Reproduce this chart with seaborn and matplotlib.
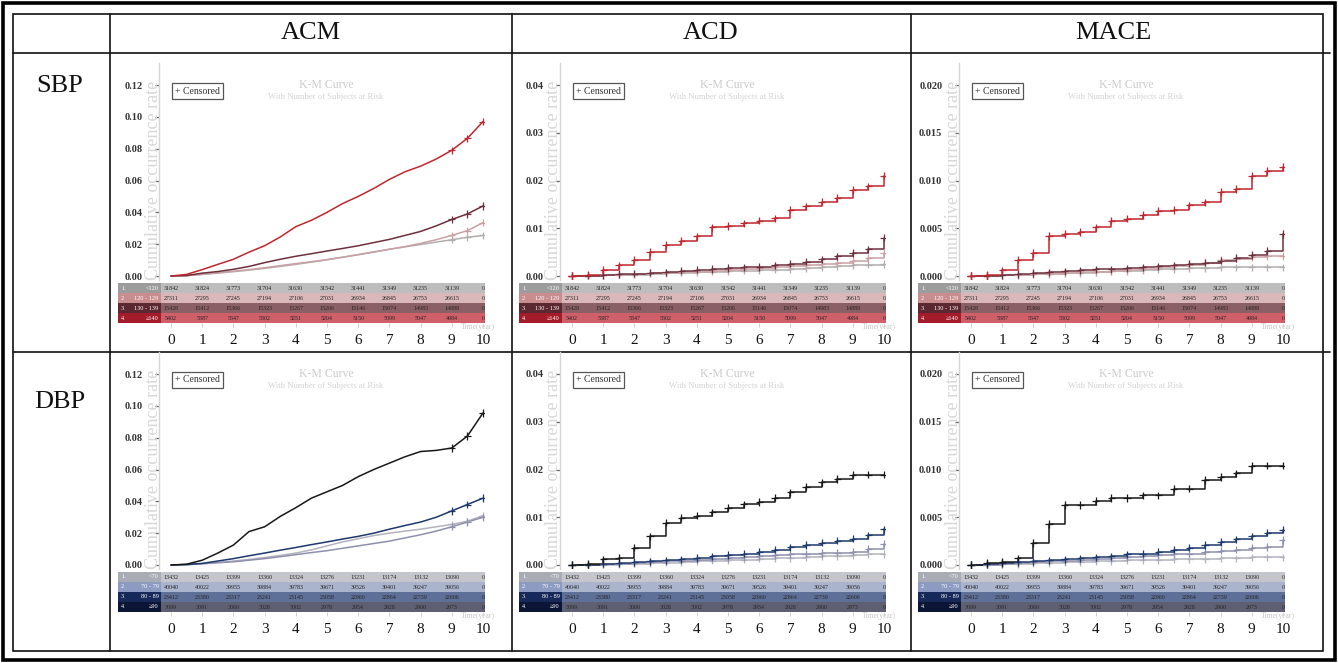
import matplotlib
matplotlib.use("Agg")
import matplotlib.pyplot as plt
from matplotlib.lines import Line2D
from matplotlib.patches import Rectangle
import seaborn as sns
import pandas as pd

sns.set_theme(style="white")
plt.rcParams["font.family"] = ["Liberation Serif", "DejaVu Sans"]

# ---------------------------------------------------------------- data
years = [0, 0.5, 1, 1.5, 2, 2.5, 3, 3.5, 4, 4.5, 5, 5.5, 6, 6.5, 7, 7.5, 8, 8.5, 9, 9.5, 10]
risk_years = [0, 1, 2, 3, 4, 5, 6, 7, 8, 9, 10]

outcomes = ["ACM", "ACD", "MACE"]
exposures = ["SBP", "DBP"]

sbp_groups = ["<120", "120-129", "130-139", "≥140"]
dbp_groups = ["<70", "70-79", "80-89", "≥90"]
sbp_row_labels = [("1.", "<120"), ("2.", "120 - 129"), ("3.", "130 - 139"), ("4.", "≥140")]
dbp_row_labels = [("1.", "<70"), ("2.", "70 - 79"), ("3.", "80 - 89"), ("4.", "≥90")]

# cumulative occurrence rate, SBP strata
sbp_acm_lt120 = [0, 0.0002, 0.001, 0.0018, 0.0027, 0.0037, 0.0048, 0.006, 0.0073, 0.0087, 0.0102,
                 0.0118, 0.0135, 0.0152, 0.0168, 0.0183, 0.0198, 0.0213, 0.0228, 0.0243, 0.0255]
sbp_acm_120 = [0, 0.0002, 0.001, 0.002, 0.003, 0.004, 0.0052, 0.0065, 0.0078, 0.009, 0.0103,
               0.0118, 0.0133, 0.015, 0.0168, 0.0185, 0.0205, 0.0228, 0.0255, 0.0285, 0.0335]
sbp_acm_130 = [0, 0.0003, 0.0018, 0.0028, 0.0042, 0.006, 0.0084, 0.0105, 0.0124, 0.014, 0.0157,
               0.0173, 0.019, 0.021, 0.023, 0.0255, 0.028, 0.0315, 0.0355, 0.039, 0.044]
sbp_acm_140 = [0, 0.001, 0.004, 0.0073, 0.0105, 0.015, 0.019, 0.0245, 0.031, 0.035, 0.040,
               0.0455, 0.050, 0.055, 0.0607, 0.0655, 0.069, 0.0735, 0.079, 0.0865, 0.097]

sbp_acd_lt120 = [0, 0.0001, 0.0002, 0.0003, 0.0003, 0.0005, 0.0006, 0.0007, 0.0008, 0.0009, 0.001,
                 0.0011, 0.0012, 0.0013, 0.0015, 0.0017, 0.0019, 0.0021, 0.0022, 0.0024, 0.0025]
sbp_acd_120 = [0, 0.0001, 0.0002, 0.0003, 0.0004, 0.0006, 0.0007, 0.0008, 0.0009, 0.0011, 0.0012,
               0.0014, 0.0016, 0.0018, 0.002, 0.0022, 0.0025, 0.0028, 0.0032, 0.0038, 0.0048]
sbp_acd_130 = [0, 0.0001, 0.0002, 0.0004, 0.0005, 0.0007, 0.0008, 0.0011, 0.0013, 0.0015, 0.0017,
               0.0018, 0.0019, 0.0022, 0.0026, 0.003, 0.0035, 0.0041, 0.0048, 0.0056, 0.008]
sbp_acd_140 = [0, 0.0003, 0.0013, 0.0022, 0.0034, 0.005, 0.0065, 0.0074, 0.0083, 0.0102, 0.0105,
               0.011, 0.0116, 0.0121, 0.0139, 0.0146, 0.0156, 0.0163, 0.018, 0.0188, 0.021]

sbp_mace_lt120 = [0, 0, 0.0001, 0.0001, 0.0002, 0.0002, 0.0003, 0.0003, 0.0004, 0.0005, 0.0005,
                  0.0006, 0.0007, 0.0007, 0.0008, 0.0008, 0.0009, 0.0009, 0.0009, 0.0009, 0.0009]
sbp_mace_120 = [0, 0, 0.0001, 0.0001, 0.0002, 0.0002, 0.0003, 0.0004, 0.0004, 0.0005, 0.0006,
                0.0007, 0.0009, 0.001, 0.0012, 0.0014, 0.0017, 0.0018, 0.002, 0.0021, 0.0021]
sbp_mace_130 = [0, 0, 0.0001, 0.0002, 0.0003, 0.0004, 0.0005, 0.0006, 0.0007, 0.0007, 0.0008,
                0.0009, 0.001, 0.0011, 0.0013, 0.0014, 0.0016, 0.0019, 0.0022, 0.0026, 0.0044]
sbp_mace_140 = [0, 0.0001, 0.0006, 0.0017, 0.0024, 0.0042, 0.0044, 0.0046, 0.0051, 0.0058, 0.006,
                0.0064, 0.0068, 0.0069, 0.0074, 0.0077, 0.0088, 0.0091, 0.0105, 0.011, 0.0114]

# cumulative occurrence rate, DBP strata
dbp_acm_lt70 = [0, 0.0002, 0.0008, 0.0016, 0.0025, 0.0035, 0.0047, 0.006, 0.0075, 0.0095, 0.012,
                0.0145, 0.0165, 0.0185, 0.020, 0.0213, 0.0225, 0.024, 0.0255, 0.0275, 0.031]
dbp_acm_70 = [0, 0.0002, 0.0008, 0.0014, 0.002, 0.003, 0.004, 0.0052, 0.0065, 0.0078, 0.009,
              0.0105, 0.012, 0.0135, 0.015, 0.017, 0.019, 0.0213, 0.024, 0.027, 0.030]
dbp_acm_80 = [0, 0.0003, 0.001, 0.0025, 0.004, 0.0058, 0.0075, 0.0093, 0.011, 0.0128, 0.0145,
              0.0163, 0.018, 0.020, 0.0225, 0.0248, 0.027, 0.030, 0.034, 0.038, 0.042]
dbp_acm_90 = [0, 0.0005, 0.003, 0.0075, 0.0125, 0.021, 0.024, 0.0305, 0.036, 0.042, 0.046,
              0.050, 0.0555, 0.060, 0.064, 0.068, 0.0713, 0.072, 0.0735, 0.081, 0.0955]

dbp_acd_lt70 = [0, 0, 0.0001, 0.0002, 0.0003, 0.0004, 0.0005, 0.0006, 0.0008, 0.0009, 0.001,
                0.0011, 0.0013, 0.0014, 0.0015, 0.0016, 0.0018, 0.0019, 0.002, 0.0022, 0.0023]
dbp_acd_70 = [0, 0, 0.0002, 0.0003, 0.0004, 0.0006, 0.0008, 0.0009, 0.0011, 0.0013, 0.0015,
              0.0017, 0.0018, 0.002, 0.0022, 0.0024, 0.0025, 0.0026, 0.0028, 0.0034, 0.0045]
dbp_acd_80 = [0, 0.0001, 0.0003, 0.0004, 0.0006, 0.0008, 0.001, 0.0012, 0.0015, 0.0018, 0.0021,
              0.0024, 0.0028, 0.0032, 0.0037, 0.0042, 0.0047, 0.0051, 0.0055, 0.0062, 0.0075]
dbp_acd_90 = [0, 0.0002, 0.0012, 0.0015, 0.0036, 0.006, 0.0089, 0.0099, 0.0103, 0.011, 0.012,
              0.0127, 0.0132, 0.0141, 0.0152, 0.0164, 0.0173, 0.018, 0.0189, 0.0189, 0.0189]

dbp_mace_lt70 = [0, 0, 0.0001, 0.0001, 0.0002, 0.0002, 0.0003, 0.0003, 0.0004, 0.0004, 0.0005,
                 0.0005, 0.0005, 0.0006, 0.0006, 0.0006, 0.0007, 0.0007, 0.0008, 0.0008, 0.0008]
dbp_mace_70 = [0, 0, 0.0001, 0.0002, 0.0003, 0.0004, 0.0004, 0.0005, 0.0006, 0.0007, 0.0008,
               0.0009, 0.001, 0.0011, 0.0012, 0.0014, 0.0015, 0.0016, 0.0018, 0.0019, 0.0026]
dbp_mace_80 = [0, 0.0001, 0.0002, 0.0003, 0.0004, 0.0005, 0.0006, 0.0007, 0.0008, 0.0009, 0.0011,
               0.0012, 0.0014, 0.0016, 0.0018, 0.0021, 0.0024, 0.0027, 0.003, 0.0034, 0.0037]
dbp_mace_90 = [0, 0.0002, 0.0003, 0.0007, 0.0023, 0.0043, 0.0063, 0.0063, 0.0067, 0.007, 0.007,
               0.0073, 0.0073, 0.008, 0.008, 0.0089, 0.0092, 0.0096, 0.0104, 0.0104, 0.0104]

# number of subjects at risk
sbp_risk_lt120 = [31842, 31824, 31773, 31704, 31630, 31542, 31441, 31349, 31235, 31139, 0]
sbp_risk_120 = [27311, 27295, 27245, 27194, 27106, 27031, 26934, 26845, 26753, 26615, 0]
sbp_risk_130 = [15428, 15412, 15366, 15323, 15267, 15206, 15146, 15074, 14983, 14888, 0]
sbp_risk_140 = [5402, 5387, 5347, 5302, 5251, 5204, 5150, 5099, 5047, 4984, 0]
dbp_risk_lt70 = [13432, 13425, 13399, 13360, 13324, 13276, 13231, 13174, 13132, 13090, 0]
dbp_risk_70 = [40040, 40022, 39955, 39884, 39783, 39671, 39526, 39401, 39247, 39056, 0]
dbp_risk_80 = [23412, 23380, 23317, 23241, 23145, 23058, 22960, 22864, 22739, 22606, 0]
dbp_risk_90 = [3099, 3091, 3060, 3028, 3002, 2978, 2954, 2928, 2900, 2973, 0]

yticks_acm = [0.00, 0.02, 0.04, 0.06, 0.08, 0.10, 0.12]
yticks_acd = [0.00, 0.01, 0.02, 0.03, 0.04]
yticks_mace = [0.000, 0.005, 0.010, 0.015, 0.020]

curves = {
    ("SBP", "ACM"): [sbp_acm_lt120, sbp_acm_120, sbp_acm_130, sbp_acm_140],
    ("SBP", "ACD"): [sbp_acd_lt120, sbp_acd_120, sbp_acd_130, sbp_acd_140],
    ("SBP", "MACE"): [sbp_mace_lt120, sbp_mace_120, sbp_mace_130, sbp_mace_140],
    ("DBP", "ACM"): [dbp_acm_lt70, dbp_acm_70, dbp_acm_80, dbp_acm_90],
    ("DBP", "ACD"): [dbp_acd_lt70, dbp_acd_70, dbp_acd_80, dbp_acd_90],
    ("DBP", "MACE"): [dbp_mace_lt70, dbp_mace_70, dbp_mace_80, dbp_mace_90],
}
risk = {
    "SBP": [sbp_risk_lt120, sbp_risk_120, sbp_risk_130, sbp_risk_140],
    "DBP": [dbp_risk_lt70, dbp_risk_70, dbp_risk_80, dbp_risk_90],
}
groups = {"SBP": sbp_groups, "DBP": dbp_groups}
row_labels = {"SBP": sbp_row_labels, "DBP": dbp_row_labels}
yticks = {"ACM": (yticks_acm, "{:.2f}"), "ACD": (yticks_acd, "{:.2f}"), "MACE": (yticks_mace, "{:.3f}")}

# ---------------------------------------------------------------- styles
line_colors = {
    "SBP": ["#b2aeae", "#c9a1a5", "#6d2f3d", "#c1262e"],
    "DBP": ["#b3b3bd", "#8f90ad", "#1d386b", "#181818"],
}
cell_colors = {
    "SBP": ["#bdbdbd", "#dab7b8", "#8b5f66", "#cf5f68"],
    "DBP": ["#c5c6cc", "#aab4cd", "#5e6f98", "#5f5f72"],
}
label_colors = {
    "SBP": ["#9c9c9c", "#c98d90", "#5b2730", "#a41c2a"],
    "DBP": ["#a9abb5", "#8b9bc2", "#17285a", "#0b1535"],
}

W, H = 1338, 663
fig = plt.figure(figsize=(W / 100, H / 100), dpi=100)
fig.patch.set_facecolor("white")


def px_box(x0, y0, x1, y1):
    return [x0 / W, 1 - y1 / H, (x1 - x0) / W, (y1 - y0) / H]


def ftext(x, y, s, **kw):
    fig.text(x / W, 1 - y / H, s, **kw)


# pixel geometry of one panel (SBP / ACM); others are shifted copies
col_dx = [0, 401, 800]
row_dy = [0, 289]
x0_px, px_per_year = 171, 31.2
ax_left, ax_right = 159, 485
y0_px, ytop_px = 276, 85

for r, expo in enumerate(exposures):
    for c, outc in enumerate(outcomes):
        dx, dy = col_dx[c], row_dy[r]
        ticks, fmt = yticks[outc]
        ymax = ticks[-1]
        span = y0_px - ytop_px

        ax = fig.add_axes(px_box(ax_left + dx, 63 + dy, ax_right + dx, 280 + dy))
        ax.set_facecolor("none")
        ax.set_xlim((ax_left - x0_px) / px_per_year, (ax_right - x0_px) / px_per_year)
        ax.set_ylim(-ymax * 4 / span, ymax * (1 + 22 / span))

        grp = groups[expo]
        recs = []
        for g, vals in zip(grp, curves[(expo, outc)]):
            for t, v in zip(years, vals):
                recs.append({"year": t, "rate": v, "group": g})
        df = pd.DataFrame(recs)
        pal = dict(zip(grp, line_colors[expo]))
        stepped = outc != "ACM"
        sns.lineplot(data=df, x="year", y="rate", hue="group", hue_order=grp, palette=pal,
                     estimator=None, legend=False, ax=ax, linewidth=1.1,
                     drawstyle="steps-post" if stepped else "default")
        cens = df if stepped else df[df["year"] >= 9]
        sns.scatterplot(data=cens, x="year", y="rate", hue="group", hue_order=grp, palette=pal,
                        marker="+", s=28, linewidth=0.9, legend=False, ax=ax, zorder=3)

        ax.set_xlabel("")
        ax.set_ylabel("")
        ax.set_xticks([])
        ax.set_yticks(ticks, labels=[fmt.format(t) for t in ticks])
        for lab in ax.get_yticklabels():
            lab.set_fontweight("bold")
        ax.tick_params(axis="y", length=3, width=0.9, color="#666666", pad=9,
                       labelsize=7.5, labelcolor="#333333", left=True)
        for side in ["top", "right", "bottom"]:
            ax.spines[side].set_visible(False)
        ax.spines["left"].set_color("#d5d5d5")
        ax.spines["left"].set_linewidth(1.0)

        # titles, axis label and censor key
        ftext(153 + dx, 180 + dy, "Cumulative occurrence rate", rotation=90, ha="center",
              va="center", fontsize=13, color="#d7d7d7")
        ftext(326 + dx, 85 + dy, "K-M Curve", ha="center", va="center", fontsize=8.5, color="#cbcbcb")
        ftext(326 + dx, 97 + dy, "With Number of Subjects at Risk", ha="center", va="center",
              fontsize=6.2, color="#d3d3d3")
        ftext(175 + dx, 91 + dy, "+ Censored", ha="left", va="center", fontsize=7, color="#333333",
              bbox=dict(boxstyle="square,pad=0.35", fc="white", ec="#555555", lw=0.9))

        # number-at-risk table
        tx = fig.add_axes(px_box(118 + dx, 283 + dy, ax_right + dx, 323 + dy))
        xl = (118 - x0_px) / px_per_year
        xr = (ax_right - x0_px) / px_per_year
        xs = (161 - x0_px) / px_per_year
        tx.set_xlim(xl, xr)
        tx.set_ylim(4, 0)
        for i in range(4):
            tx.add_patch(Rectangle((xl, i), xs - xl, 1, fc=label_colors[expo][i], ec="none"))
            tx.add_patch(Rectangle((xs, i), xr - xs, 1, fc=cell_colors[expo][i], ec="none"))
            num, rng = row_labels[expo][i]
            tx.text(xl + 0.1, i + 0.5, num, ha="left", va="center", fontsize=4.5, color="white")
            tx.text(xs - 0.08, i + 0.5, rng, ha="right", va="center", fontsize=4.5, color="white")
            for t, n in zip(risk_years, risk[expo][i]):
                tx.text(t, i + 0.52, str(n), ha="center", va="center", fontsize=4.3, color="#262626")
        for s in tx.spines.values():
            s.set_visible(False)
        tx.set_yticks([])
        tx.set_xticks(risk_years, labels=[str(t) for t in risk_years])
        tx.tick_params(axis="x", bottom=True, length=3, width=0.7, color="#d0d0d0", pad=5,
                       labelsize=11, labelcolor="#111111")
        ftext(478 + dx, 327 + dy, "Time(year)", ha="center", va="center", fontsize=5.5, color="#c8c8c8")

# ---------------------------------------------------------------- frame and table grid
ov = fig.add_axes([0, 0, 1, 1], zorder=-1)
ov.set_xlim(0, W)
ov.set_ylim(H, 0)
ov.axis("off")
ov.add_patch(Rectangle((3, 3), 1332, 657, fill=False, ec="black", lw=2.6))
ov.add_patch(Rectangle((13, 14), 1310, 637, fill=False, ec="#111111", lw=1.2))
for y in [53, 352]:
    ov.add_line(Line2D([13, 1330], [y, y], color="#111111", lw=1.2))
for x in [110, 512, 911]:
    ov.add_line(Line2D([x, x], [14, 651], color="#111111", lw=1.2))

for name, x in zip(outcomes, [311, 711, 1113]):
    ftext(x, 33, name, ha="center", va="center", fontsize=19, color="#111111")
for name, y in zip(exposures, [86, 402]):
    ftext(60, y, name, ha="center", va="center", fontsize=19, color="#111111")

fig.savefig("out.png", dpi=100, facecolor="white")
